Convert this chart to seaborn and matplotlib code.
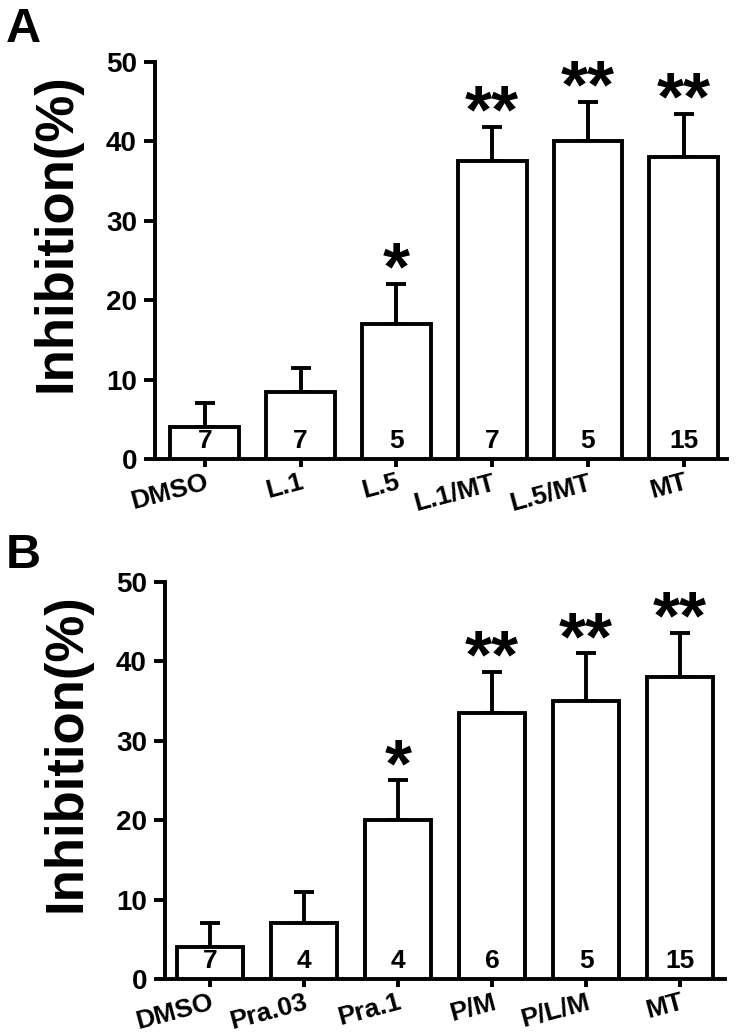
import numpy as np
import pandas as pd
import matplotlib
matplotlib.use("Agg")
import matplotlib.pyplot as plt
import seaborn as sns

# ---- data ----
cats_a = ["DMSO", "L.1", "L.5", "L.1/MT", "L.5/MT", "MT"]
mean_a = [4.0, 8.5, 17.0, 37.5, 40.0, 38.0]
sem_a = [3.0, 3.0, 5.0, 4.3, 5.0, 5.5]
n_a = ["7", "7", "5", "7", "5", "15"]
sig_a = ["", "", "*", "**", "**", "**"]

cats_b = ["DMSO", "Pra.03", "Pra.1", "P/M", "P/L/M", "MT"]
mean_b = [4.0, 7.0, 20.0, 33.5, 35.0, 38.0]
sem_b = [3.0, 4.0, 5.0, 5.2, 6.0, 5.6]
n_b = ["7", "4", "4", "6", "5", "15"]
sig_b = ["", "", "*", "**", "**", "**"]

yticks = [0, 10, 20, 30, 40, 50]
ylabel = "Inhibition(%)"

sns.set_theme(style="ticks")
plt.rcParams["font.family"] = ["Liberation Sans", "DejaVu Sans"]
plt.rcParams["font.weight"] = "bold"
for k in ["text.color", "axes.labelcolor", "xtick.color", "ytick.color", "axes.edgecolor"]:
    plt.rcParams[k] = "black"

fig = plt.figure(figsize=(7.37, 10.35), dpi=100)
LW = 2.8


def panel(rect, cats, means, sems, ns, sigs, width, xlim, letter, letter_xy, label_x):
    ax = fig.add_axes(rect)
    df = pd.DataFrame({"cat": cats, "val": means})
    sns.barplot(data=df, x="cat", y="val", order=cats, color="white", saturation=1,
                edgecolor="black", linewidth=LW, width=width, errorbar=None, ax=ax, zorder=3)
    x = np.arange(len(cats))
    ax.errorbar(x, means, yerr=[np.zeros(len(sems)), sems], fmt="none", ecolor="black",
                elinewidth=LW, capsize=7, capthick=LW, zorder=2)
    for xi, m, s, n, sg in zip(x, means, sems, ns, sigs):
        ax.text(xi, 0.8, n, ha="center", va="bottom", fontsize=19, fontweight="bold",
                color="black", zorder=5)
        if sg:
            ax.text(xi, m + s - 0.7, sg, ha="center", va="baseline", fontsize=50,
                    fontweight="bold", color="black", zorder=5)
    ax.set_ylim(0, 50)
    ax.set_xlim(*xlim)
    ax.set_yticks(yticks)
    ax.set_yticklabels([str(t) for t in yticks], fontsize=20, fontweight="bold")
    ax.set_xticks(x)
    ax.set_xticklabels(cats, rotation=15, ha="right", rotation_mode="anchor",
                       fontsize=19, fontweight="bold")
    ax.set_xlabel("")
    ax.set_ylabel(ylabel, fontsize=38, fontweight="bold")
    ax.yaxis.set_label_coords(label_x, 0.57)
    sns.despine(ax=ax)
    for sp in ["left", "bottom"]:
        ax.spines[sp].set_linewidth(LW)
        ax.spines[sp].set_color("black")
    ax.tick_params(axis="y", direction="out", length=8, width=LW, color="black", pad=5)
    ax.tick_params(axis="x", direction="out", length=6, width=LW, color="black", pad=2)
    ax.set_facecolor("white")
    fig.text(letter_xy[0], letter_xy[1], letter, fontsize=35, fontweight="bold",
             ha="left", va="top", color="black")
    return ax


panel([0.2103, 0.5565, 0.776, 0.3836], cats_a, mean_a, sem_a, n_a, sig_a, 0.72,
      (-0.52, 5.45), "A", (0.008, 0.993), -0.128)
panel([0.2239, 0.0541, 0.760, 0.3836], cats_b, mean_b, sem_b, n_b, sig_b, 0.70,
      (-0.48, 5.48), "B", (0.008, 0.485), -0.131)

fig.savefig("out.png", dpi=100, facecolor="white")
